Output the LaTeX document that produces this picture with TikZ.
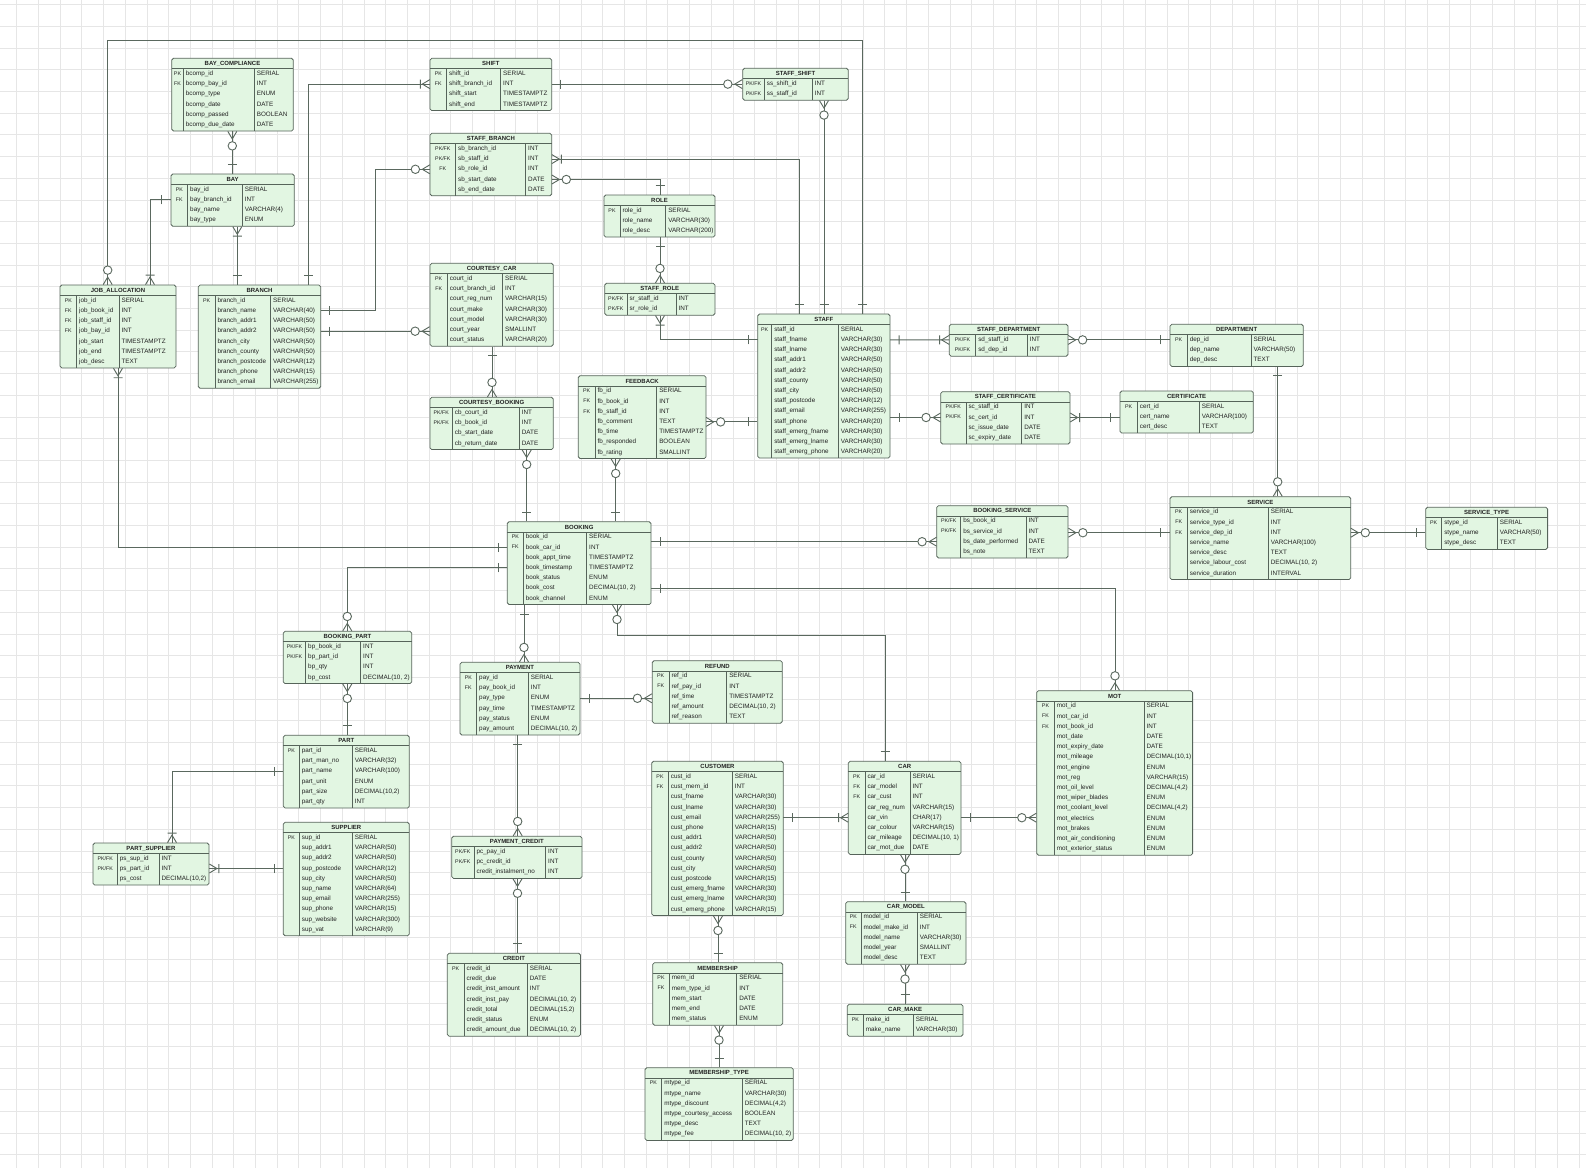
\documentclass[tikz,border=0pt]{standalone}
\usepackage{fontspec}
\setmainfont{Liberation Sans}
\usepackage{xcolor}
\usepackage{tikz}
\usetikzlibrary{arrows.meta,positioning,fit,calc}

\definecolor{erfill}{HTML}{E2F6E2}
\definecolor{erline}{HTML}{56645A}
\definecolor{edgec}{HTML}{5A685E}
\definecolor{ertext}{HTML}{222222}
\definecolor{gridc}{HTML}{E6E6E6}

% crow's foot ends
\pgfdeclarearrow{
  name=ERone,
  setup code={
    \pgfarrowssettipend{0pt}
    \pgfarrowssetlineend{0pt}
    \pgfarrowssetbackend{-14pt}
    \pgfarrowshullpoint{0pt}{7pt}
    \pgfarrowshullpoint{0pt}{-7pt}
    \pgfarrowshullpoint{-14pt}{7pt}
    \pgfarrowshullpoint{-14pt}{-7pt}
  },
  drawing code={
    \pgfsetlinewidth{1.3pt}
    \pgfpathmoveto{\pgfqpoint{-12.8pt}{-6.4pt}}
    \pgfpathlineto{\pgfqpoint{-12.8pt}{6.4pt}}
    \pgfusepathqstroke
  }
}
\pgfdeclarearrow{
  name=ERomany,
  setup code={
    \pgfarrowssettipend{0pt}
    \pgfarrowssetlineend{0pt}
    \pgfarrowssetbackend{-15pt}
    \pgfarrowshullpoint{0pt}{7pt}
    \pgfarrowshullpoint{0pt}{-7pt}
    \pgfarrowshullpoint{-15pt}{7pt}
    \pgfarrowshullpoint{-15pt}{-7pt}
  },
  drawing code={
    \pgfsetlinewidth{1.3pt}
    \pgfpathmoveto{\pgfqpoint{0pt}{6.4pt}}
    \pgfpathlineto{\pgfqpoint{-10.7pt}{0pt}}
    \pgfpathlineto{\pgfqpoint{0pt}{-6.4pt}}
    \pgfpathmoveto{\pgfqpoint{-13.5pt}{-6.4pt}}
    \pgfpathlineto{\pgfqpoint{-13.5pt}{6.4pt}}
    \pgfusepathqstroke
  }
}
\pgfdeclarearrow{
  name=ERzmany,
  setup code={
    \pgfarrowssettipend{0pt}
    \pgfarrowssetlineend{0pt}
    \pgfarrowssetbackend{-27pt}
    \pgfarrowshullpoint{0pt}{7pt}
    \pgfarrowshullpoint{0pt}{-7pt}
    \pgfarrowshullpoint{-27pt}{7pt}
    \pgfarrowshullpoint{-27pt}{-7pt}
  },
  drawing code={
    \pgfsetlinewidth{1.3pt}
    \pgfpathmoveto{\pgfqpoint{0pt}{6.4pt}}
    \pgfpathlineto{\pgfqpoint{-10.7pt}{0pt}}
    \pgfpathlineto{\pgfqpoint{0pt}{-6.4pt}}
    \pgfusepathqstroke
    \pgfsetfillcolor{white}
    \pgfpathcircle{\pgfqpoint{-20.6pt}{0pt}}{6pt}
    \pgfusepathqfillstroke
  }
}

% #1 name, #2 left, #3 top, #4 right, #5 key divider, #6 type divider,
% #7 rows, #8 title, #9 fields
\newcommand{\ertable}[9]{%
  \pgfmathsetmacro{\erhb}{#3+10.5}%
  \pgfmathsetmacro{\erbt}{#3+10.5+#7*10.2+1}%
  \node[erbox, fit={(#2,#3) (#4,\erbt)}] (#1) {};
  \draw[ersep] (#2,\erhb) -- (#4,\erhb);
  \draw[ersep] (#5,\erhb) -- (#5,\erbt);
  \draw[ersep] (#6,\erhb) -- (#6,\erbt);
  \node[ertitle] (#1-title) at ({(#2+#4)/2},{#3+5.4}) {#8};
  \foreach \k/\n/\t [count=\i] in {#9}{%
    \pgfmathsetmacro{\ery}{\erhb+(\i-0.5)*10.2}%
    \node[errow, fit={(#2,{\ery-5.1}) (#4,{\ery+5.1})}] (#1-\i) {};
    \node[erkey] (#1-k\i) at ({(#2+#5)/2},\ery) {\k};
    \node[erfield] (#1-n\i) at (#5,\ery) {\n};
    \node[erfield] (#1-t\i) at (#6,\ery) {\t};
  }%
}

\begin{document}
\catcode`\_=12
\begin{tikzpicture}[x=0.05cm, y=-0.05cm,
    font=\fontsize{9}{10}\selectfont, text=ertext,
    erbox/.style={draw=erline, fill=erfill, line width=1.1pt,
        rounded corners=2.5pt, inner sep=0pt},
    ersep/.style={draw=erline, line width=0.9pt},
    ertitle/.style={font=\fontsize{8.5}{9}\selectfont\bfseries, inner sep=0pt},
    erkey/.style={font=\fontsize{7.5}{8}\selectfont, inner sep=0pt,
        text height=5.6pt, text depth=1.6pt},
    erfield/.style={anchor=west, inner sep=0pt, xshift=0.12cm,
        text height=6.5pt, text depth=1.8pt},
    errow/.style={inner sep=0pt},
    rel/.style={draw=edgec, line width=1.3pt},
    gridline/.style={draw=gridc, line width=0.6pt}
  ]

  \fill[white] (0,0) rectangle (1586,1168);
  \useasboundingbox (0,0) rectangle (1586,1168);

  % background grid
  \foreach \g in {0,...,72}{
    \draw[gridline] ({16.6+21.7*\g},0) -- ({16.6+21.7*\g},1168);
  }
  \foreach \g in {0,...,53}{
    \draw[gridline] (0,{4.5+21.7*\g}) -- (1586,{4.5+21.7*\g});
  }

  % tables, top row
  \ertable{bcomp}{171.7}{58.3}{293.3}{183.3}{254.3}{6}{BAY_COMPLIANCE}{%
    PK/bcomp_id/SERIAL,FK/bcomp_bay_id/INT,/bcomp_type/ENUM,%
    /bcomp_date/DATE,/bcomp_passed/BOOLEAN,/bcomp_due_date/DATE}
  \ertable{bay}{171}{174}{294.3}{187.7}{242.3}{4}{BAY}{%
    PK/bay_id/SERIAL,FK/bay_branch_id/INT,/bay_name/VARCHAR(4),/bay_type/ENUM}
  \ertable{job}{60}{285}{176}{76.7}{119}{7}{JOB_ALLOCATION}{%
    PK/job_id/SERIAL,FK/job_book_id/INT,FK/job_staff_id/INT,FK/job_bay_id/INT,%
    /job_start/TIMESTAMPTZ,/job_end/TIMESTAMPTZ,/job_desc/TEXT}
  \ertable{branch}{198.3}{285}{320.7}{215}{270.7}{9}{BRANCH}{%
    PK/branch_id/SERIAL,/branch_name/VARCHAR(40),/branch_addr1/VARCHAR(50),%
    /branch_addr2/VARCHAR(50),/branch_city/VARCHAR(50),/branch_county/VARCHAR(50),%
    /branch_postcode/VARCHAR(12),/branch_phone/VARCHAR(15),/branch_email/VARCHAR(255)}
  \ertable{shift}{430}{58.3}{551.7}{446.7}{500.7}{4}{SHIFT}{%
    PK/shift_id/SERIAL,FK/shift_branch_id/INT,/shift_start/TIMESTAMPTZ,%
    /shift_end/TIMESTAMPTZ}
  \ertable{sbranch}{430}{133.3}{551.7}{455.7}{525.7}{5}{STAFF_BRANCH}{%
    {PK/FK}/sb_branch_id/INT,{PK/FK}/sb_staff_id/INT,FK/sb_role_id/INT,%
    /sb_start_date/DATE,/sb_end_date/DATE}
  \ertable{role}{604}{195}{715}{620}{665.7}{3}{ROLE}{%
    PK/role_id/SERIAL,/role_name/VARCHAR(30),/role_desc/VARCHAR(200)}
  \ertable{srole}{604.7}{283.3}{715}{627}{676}{2}{STAFF_ROLE}{%
    {PK/FK}/sr_staff_id/INT,{PK/FK}/sr_role_id/INT}
  \ertable{ccar}{430}{263.3}{553.3}{447.3}{502.7}{7}{COURTESY_CAR}{%
    PK/court_id/SERIAL,FK/court_branch_id/INT,/court_reg_num/VARCHAR(15),%
    /court_make/VARCHAR(30),/court_model/VARCHAR(30),/court_year/SMALLINT,%
    /court_status/VARCHAR(20)}
  \ertable{sshift}{742.7}{68.3}{848.3}{764.3}{812.3}{2}{STAFF_SHIFT}{%
    {PK/FK}/ss_shift_id/INT,{PK/FK}/ss_staff_id/INT}

  % staff block
  \ertable{staff}{757.7}{314}{890}{771.7}{838.3}{13}{STAFF}{%
    PK/staff_id/SERIAL,/staff_fname/VARCHAR(30),/staff_lname/VARCHAR(30),%
    /staff_addr1/VARCHAR(50),/staff_addr2/VARCHAR(50),/staff_county/VARCHAR(50),%
    /staff_city/VARCHAR(50),/staff_postcode/VARCHAR(12),/staff_email/VARCHAR(255),%
    /staff_phone/VARCHAR(20),/staff_emerg_fname/VARCHAR(30),%
    /staff_emerg_lname/VARCHAR(30),/staff_emerg_phone/VARCHAR(20)}
  \ertable{sdept}{949.3}{324.3}{1068}{975.7}{1027.3}{2}{STAFF_DEPARTMENT}{%
    {PK/FK}/sd_staff_id/INT,{PK/FK}/sd_dep_id/INT}
  \ertable{dept}{1170}{324.3}{1303.3}{1187.3}{1251}{3}{DEPARTMENT}{%
    PK/dep_id/SERIAL,/dep_name/VARCHAR(50),/dep_desc/TEXT}
  \ertable{scert}{940.7}{391.7}{1070}{966}{1021.7}{4}{STAFF_CERTIFICATE}{%
    {PK/FK}/sc_staff_id/INT,{PK/FK}/sc_cert_id/INT,/sc_issue_date/DATE,%
    /sc_expiry_date/DATE}
  \ertable{cert}{1120}{391}{1253.3}{1137.3}{1199.3}{3}{CERTIFICATE}{%
    PK/cert_id/SERIAL,/cert_name/VARCHAR(100),/cert_desc/TEXT}
  \ertable{service}{1170}{496.7}{1350.7}{1187.3}{1268.3}{7}{SERVICE}{%
    PK/service_id/SERIAL,FK/service_type_id/INT,FK/service_dep_id/INT,%
    /service_name/VARCHAR(100),/service_desc/TEXT,%
    /service_labour_cost/{DECIMAL(10, 2)},/service_duration/INTERVAL}
  \ertable{stype}{1425.7}{507.3}{1547.6}{1441.7}{1497.3}{3}{SERVICE_TYPE}{%
    PK/stype_id/SERIAL,/stype_name/VARCHAR(50),/stype_desc/TEXT}

  % booking block
  \ertable{cbook}{430}{397.3}{553.3}{452.3}{519.3}{4}{COURTESY_BOOKING}{%
    {PK/FK}/cb_court_id/INT,{PK/FK}/cb_book_id/INT,/cb_start_date/DATE,%
    /cb_return_date/DATE}
  \ertable{fback}{578.3}{375.7}{706}{595}{656.7}{7}{FEEDBACK}{%
    PK/fb_id/SERIAL,FK/fb_book_id/INT,FK/fb_staff_id/INT,/fb_comment/TEXT,%
    /fb_time/TIMESTAMPTZ,/fb_responded/BOOLEAN,/fb_rating/SMALLINT}
  \ertable{book}{507.3}{521.7}{651}{523.3}{586.7}{7}{BOOKING}{%
    PK/book_id/SERIAL,FK/book_car_id/INT,/book_appt_time/TIMESTAMPTZ,%
    /book_timestamp/TIMESTAMPTZ,/book_status/ENUM,/book_cost/{DECIMAL(10, 2)},%
    /book_channel/ENUM}
  \ertable{bservice}{936.7}{505.7}{1068}{960.7}{1026}{4}{BOOKING_SERVICE}{%
    {PK/FK}/bs_book_id/INT,{PK/FK}/bs_service_id/INT,/bs_date_performed/DATE,%
    /bs_note/TEXT}

  % parts and payments
  \ertable{bpart}{283.3}{631.3}{411.7}{305.7}{360.7}{4}{BOOKING_PART}{%
    {PK/FK}/bp_book_id/INT,{PK/FK}/bp_part_id/INT,/bp_qty/INT,%
    /bp_cost/{DECIMAL(10, 2)}}
  \ertable{part}{283.3}{735.3}{409.3}{299.3}{352.3}{6}{PART}{%
    PK/part_id/SERIAL,/part_man_no/VARCHAR(32),/part_name/VARCHAR(100),%
    /part_unit/ENUM,/part_size/{DECIMAL(10,2)},/part_qty/INT}
  \ertable{supplier}{283.3}{822.3}{409.3}{299.3}{352.3}{10}{SUPPLIER}{%
    PK/sup_id/SERIAL,/sup_addr1/VARCHAR(50),/sup_addr2/VARCHAR(50),%
    /sup_postcode/VARCHAR(12),/sup_city/VARCHAR(50),/sup_name/VARCHAR(64),%
    /sup_email/VARCHAR(255),/sup_phone/VARCHAR(15),/sup_website/VARCHAR(300),%
    /sup_vat/VARCHAR(9)}
  \ertable{psupp}{93}{843}{209}{117.3}{159}{3}{PART_SUPPLIER}{%
    {PK/FK}/ps_sup_id/INT,{PK/FK}/ps_part_id/INT,/ps_cost/{DECIMAL(10,2)}}
  \ertable{pay}{460}{662.3}{580}{476.7}{528.3}{6}{PAYMENT}{%
    PK/pay_id/SERIAL,FK/pay_book_id/INT,/pay_type/ENUM,/pay_time/TIMESTAMPTZ,%
    /pay_status/ENUM,/pay_amount/{DECIMAL(10, 2)}}
  \ertable{refund}{652.3}{660.7}{782.3}{669}{726.7}{5}{REFUND}{%
    PK/ref_id/SERIAL,FK/ref_pay_id/INT,/ref_time/TIMESTAMPTZ,%
    /ref_amount/{DECIMAL(10, 2)},/ref_reason/TEXT}
  \ertable{pcredit}{451.7}{836.3}{582}{474}{545.7}{3}{PAYMENT_CREDIT}{%
    {PK/FK}/pc_pay_id/INT,{PK/FK}/pc_credit_id/INT,/credit_instalment_no/INT}
  \ertable{credit}{447.3}{953.3}{580.6}{464}{527.3}{7}{CREDIT}{%
    PK/credit_id/SERIAL,/credit_due/DATE,/credit_inst_amount/INT,%
    /credit_inst_pay/{DECIMAL(10, 2)},/credit_total/{DECIMAL(15,2)},%
    /credit_status/ENUM,/credit_amount_due/{DECIMAL(10, 2)}}

  % customer and cars
  \ertable{cust}{651.7}{761.3}{783.3}{668.3}{732.3}{14}{CUSTOMER}{%
    PK/cust_id/SERIAL,FK/cust_mem_id/INT,/cust_fname/VARCHAR(30),%
    /cust_lname/VARCHAR(30),/cust_email/VARCHAR(255),/cust_phone/VARCHAR(15),%
    /cust_addr1/VARCHAR(50),/cust_addr2/VARCHAR(50),/cust_county/VARCHAR(50),%
    /cust_city/VARCHAR(50),/cust_postcode/VARCHAR(15),/cust_emerg_fname/VARCHAR(30),%
    /cust_emerg_lname/VARCHAR(30),/cust_emerg_phone/VARCHAR(15)}
  \ertable{car}{848.3}{761.3}{961}{865}{910}{8}{CAR}{%
    PK/car_id/SERIAL,FK/car_model/INT,FK/car_cust/INT,/car_reg_num/VARCHAR(15),%
    /car_vin/CHAR(17),/car_colour/VARCHAR(15),/car_mileage/{DECIMAL(10, 1)},%
    /car_mot_due/DATE}
  \ertable{mot}{1036.7}{690.7}{1192.6}{1054.3}{1144}{15}{MOT}{%
    PK/mot_id/SERIAL,FK/mot_car_id/INT,FK/mot_book_id/INT,/mot_date/DATE,%
    /mot_expiry_date/DATE,/mot_mileage/{DECIMAL(10,1)},/mot_engine/ENUM,%
    /mot_reg/VARCHAR(15),/mot_oil_level/{DECIMAL(4,2)},/mot_wiper_blades/ENUM,%
    /mot_coolant_level/{DECIMAL(4,2)},/mot_electrics/ENUM,/mot_brakes/ENUM,%
    /mot_air_conditioning/ENUM,/mot_exterior_status/ENUM}
  \ertable{cmodel}{845.7}{901.7}{966}{861}{917.3}{5}{CAR_MODEL}{%
    PK/model_id/SERIAL,FK/model_make_id/INT,/model_name/VARCHAR(30),%
    /model_year/SMALLINT,/model_desc/TEXT}
  \ertable{cmake}{847.3}{1004.3}{963}{863.3}{913.3}{2}{CAR_MAKE}{%
    PK/make_id/SERIAL,/make_name/VARCHAR(30)}
  \ertable{member}{652.7}{962.7}{782.7}{669.3}{736.7}{5}{MEMBERSHIP}{%
    PK/mem_id/SERIAL,FK/mem_type_id/INT,/mem_start/DATE,/mem_end/DATE,%
    /mem_status/ENUM}
  \ertable{mtype}{645}{1067.7}{793.3}{661.7}{742.3}{6}{MEMBERSHIP_TYPE}{%
    PK/mtype_id/SERIAL,/mtype_name/VARCHAR(30),/mtype_discount/{DECIMAL(4,2)},%
    /mtype_courtesy_access/BOOLEAN,/mtype_desc/TEXT,/mtype_fee/{DECIMAL(10, 2)}}

  % relationships
  \draw[rel, {ERzmany}-{ERone}] (bcomp.south -| 232.3,0) -- (bay.north -| 232.3,0);
  \draw[rel, {ERomany}-{ERone}] (bay.south -| 237.3,0) -- (branch.north -| 237.3,0);
  \draw[rel, {ERone}-{ERomany}] (bay-2.west) -| (job.north -| 150,0);
  \draw[rel, {ERzmany}-{ERone}] (job.north -| 107.7,0) -- (107.7,40.5)
      -- (862.7,40.5) -- (staff.north -| 862.7,0);
  \draw[rel, {ERomany}-{ERone}] (job.south -| 118,0) |- (book-2.west);
  \draw[rel, {ERone}-{ERomany}] (branch.north -| 308.3,0) |- (shift-2.west);
  \draw[rel, {ERone}-{ERzmany}] (branch-2.east) -| (375.7,240) |- (sbranch-3.west);
  \draw[rel, {ERone}-{ERzmany}] (branch-4.east) -- (ccar.west |- branch-4.east);
  \draw[rel, {ERone}-{ERzmany}] (shift-2.east) -- (sshift.west |- shift-2.east);
  \draw[rel, {ERomany}-{ERone}] (sbranch-2.east) -| (staff.north -| 799.3,0);
  \draw[rel, {ERzmany}-{ERone}] (sbranch-4.east) -| (role.north -| 660,0);
  \draw[rel, {ERone}-{ERzmany}] (role.south -| 660,0) -- (srole.north -| 660,0);
  \draw[rel, {ERomany}-{ERone}] (srole.south -| 660,0) |- (staff-2.west);
  \draw[rel, {ERzmany}-{ERone}] (sshift.south -| 824,0) -- (staff.north -| 824,0);
  \draw[rel, {ERone}-{ERomany}] (staff-2.east) -- (sdept-1.west);
  \draw[rel, {ERzmany}-{ERone}] (sdept-1.east) -- (dept-1.west);
  \draw[rel, {ERone}-{ERzmany}] (dept.south -| 1277.7,0) -- (service.north -| 1277.7,0);
  \draw[rel, {ERone}-{ERzmany}] (staff.east |- scert-2.west) -- (scert-2.west);
  \draw[rel, {ERomany}-{ERone}] (scert-2.east) -- (cert.west |- scert-2.east);
  \draw[rel, {ERzmany}-{ERone}] (fback-4.east) -- (staff.west |- fback-4.east);
  \draw[rel, {ERone}-{ERzmany}] (ccar.south -| 492,0) -- (cbook.north -| 492,0);
  \draw[rel, {ERzmany}-{ERone}] (cbook.south -| 526.7,0) -- (book.north -| 526.7,0);
  \draw[rel, {ERzmany}-{ERone}] (fback.south -| 615.7,0) -- (book.north -| 615.7,0);
  \draw[rel, {ERone}-{ERzmany}] (book.east |- bservice-3.west) -- (bservice-3.west);
  \draw[rel, {ERzmany}-{ERone}] (bservice.east |- service-3.west) -- (service-3.west);
  \draw[rel, {ERzmany}-{ERone}] (service-3.east) -- (stype.west |- service-3.east);
  \draw[rel, {ERone}-{ERzmany}] (book-6.east) -| (mot.north -| 1115,0);
  \draw[rel, {ERzmany}-{ERone}] (bpart.north -| 347.3,0) |- (book-4.west);
  \draw[rel, {ERone}-{ERzmany}] (book.south -| 524,0) -- (pay.north -| 524,0);
  \draw[rel, {ERzmany}-{ERone}] (book.south -| 617,0) -- (617,635)
      -| (car.north -| 885,0);
  \draw[rel, {ERzmany}-{ERone}] (bpart.south -| 347.3,0) -- (part.north -| 347.3,0);
  \draw[rel, {ERone}-{ERomany}] (part-3.west) -| (psupp.north -| 172,0);
  \draw[rel, {ERone}-{ERomany}] (supplier-4.west) -- (psupp.east |- supplier-4.west);
  \draw[rel, {ERone}-{ERzmany}] (pay-3.east) -- (refund.west |- pay-3.east);
  \draw[rel, {ERone}-{ERzmany}] (pay.south -| 517.7,0) -- (pcredit.north -| 517.7,0);
  \draw[rel, {ERzmany}-{ERone}] (pcredit.south -| 517.5,0) -- (credit.north -| 517.5,0);
  \draw[rel, {ERone}-{ERomany}] (cust-5.east) -- (car-5.west);
  \draw[rel, {ERone}-{ERzmany}] (car-5.east) -- (mot.west |- car-5.east);
  \draw[rel, {ERzmany}-{ERone}] (car.south -| 905,0) -- (cmodel.north -| 905,0);
  \draw[rel, {ERzmany}-{ERone}] (cmodel.south -| 905,0) -- (cmake.north -| 905,0);
  \draw[rel, {ERzmany}-{ERone}] (cust.south -| 718,0) -- (member.north -| 718,0);
  \draw[rel, {ERzmany}-{ERone}] (member.south -| 719,0) -- (mtype.north -| 719,0);
\end{tikzpicture}
\end{document}
